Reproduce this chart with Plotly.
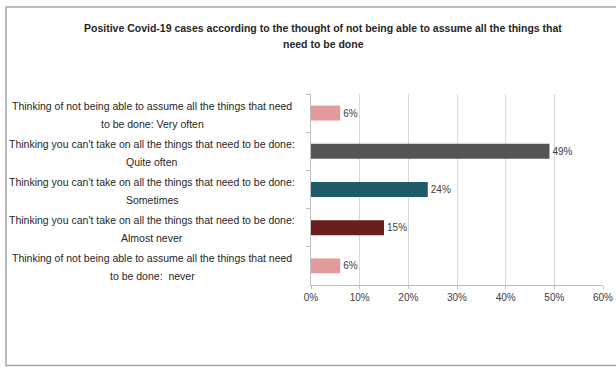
import plotly.graph_objects as go

categories = [
    "Thinking of not being able to assume all the things that need<br>to be done: Very often",
    "Thinking you can't take on all the things that need to be done:<br>Quite often",
    "Thinking you can't take on all the things that need to be done:<br>Sometimes",
    "Thinking you can't take on all the things that need to be done:<br>Almost never",
    "Thinking of not being able to assume all the things that need<br>to be done:  never",
]
values = [0.06, 0.49, 0.24, 0.15, 0.06]
value_labels = ["6%", "49%", "24%", "15%", "6%"]
bar_colors = ["#E39A9A", "#555555", "#1E5C6B", "#6A1E1E", "#E39A9A"]
x_ticks = [0, 0.1, 0.2, 0.3, 0.4, 0.5, 0.6]
x_tick_labels = ["0%", "10%", "20%", "30%", "40%", "50%", "60%"]
title = ("Positive Covid-19 cases according to the thought of not being able to assume all the things that"
         "<br>need to be done")

FONT = "Liberation Sans, Arial"
TXT = "#262626"

W, H = 616, 367
L, R, T, B = 311, 13, 94, 82
PW, PH = W - L - R, H - T - B


def px_x(p):
    return (p - L) / PW


def px_y(p):
    return (H - B - p) / PH


fig = go.Figure()
fig.add_trace(go.Bar(
    y=categories, x=values, orientation="h",
    marker=dict(color=bar_colors, line=dict(width=0)),
    text=value_labels, textposition="outside",
    textfont=dict(family=FONT, size=10, color="#404040"),
    cliponaxis=False, width=0.39,
))

annotations = []
for cat in categories:
    for i, ln in enumerate(cat.split("<br>")):
        annotations.append(dict(
            x=px_x(152), xref="paper", y=cat, yref="y",
            text=ln, showarrow=False, xanchor="center", yanchor="middle",
            yshift=7.5 - 18 * i,
            font=dict(family=FONT, size=10.5, color=TXT),
        ))

for i, ln in enumerate(title.split("<br>")):
    annotations.append(dict(
        x=px_x(323), xref="paper", y=px_y(28 + 16 * i), yref="paper",
        text="<b>" + ln + "</b>", showarrow=False, xanchor="center", yanchor="middle",
        font=dict(family=FONT, size=10.5, color=TXT),
    ))

fig.update_layout(
    width=W, height=H,
    margin=dict(l=L, r=R, t=T, b=B, autoexpand=False),
    paper_bgcolor="white", plot_bgcolor="white",
    showlegend=False,
    bargap=0.61,
    annotations=annotations,
    xaxis=dict(
        range=[0, 0.6], tickvals=x_ticks, ticktext=x_tick_labels,
        showgrid=True, gridcolor="#D9D9D9", gridwidth=1,
        showline=True, linecolor="#BFBFBF", ticks="outside", ticklen=3, tickcolor="#BFBFBF",
        tickfont=dict(family=FONT, size=10, color="#404040"), zeroline=False, fixedrange=True,
        automargin=False,
    ),
    yaxis=dict(
        autorange="reversed", showticklabels=False,
        showline=True, linecolor="#BFBFBF", ticks="outside", ticklen=4, tickcolor="#BFBFBF",
        tickson="boundaries", showgrid=False, fixedrange=True, automargin=False,
    ),
    shapes=[dict(
        type="rect", xref="paper", yref="paper",
        x0=px_x(6), x1=px_x(W + 5),
        y0=px_y(365.5), y1=px_y(7),
        line=dict(color="#A6A6A6", width=1.5), fillcolor="rgba(0,0,0,0)", layer="below",
    )],
)

fig.write_html("out.html", config={"displayModeBar": False},
               post_script="document.body.style.margin='0px';")
